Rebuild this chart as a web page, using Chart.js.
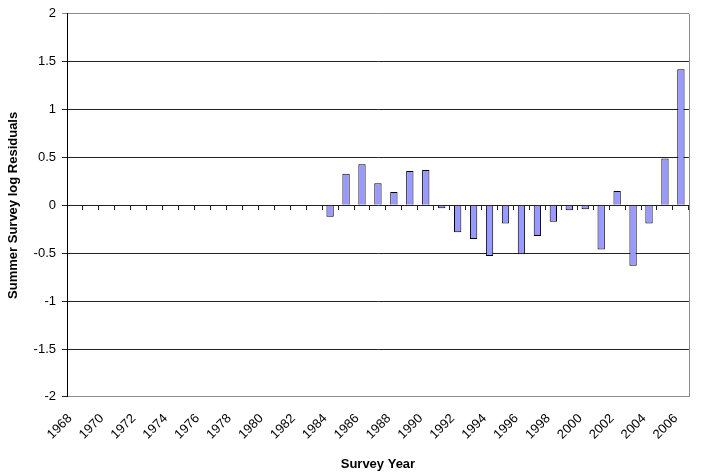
<!DOCTYPE html>
<html>
<head>
<meta charset="utf-8">
<script src="https://cdn.jsdelivr.net/npm/chart.js@4/dist/chart.umd.min.js"></script>
<style>
  html, body { margin: 0; padding: 0; background: #fff; }
  #wrap { width: 706px; height: 472px; }
</style>
</head>
<body>
<div id="wrap"><canvas id="chart" width="706" height="472"></canvas></div>
<script>
// survey years 1968 - 2006
const years = [];
for (let y = 1968; y <= 2006; y++) years.push(String(y));

// log residuals, no survey before 1984
const residuals = [
  null, null, null, null, null, null, null, null, null, null,   // 1968-1977
  null, null, null, null, null, null,                           // 1978-1983
  -0.12, 0.33, 0.43, 0.23, 0.14, 0.36, 0.37, -0.03,             // 1984-1991
  -0.28, -0.35, -0.53, -0.19, -0.51, -0.32, -0.17, -0.05,       // 1992-1999
  -0.04, -0.46, 0.15, -0.63, -0.19, 0.49, 1.42                  // 2000-2006
];

const yTicks = [-2, -1.5, -1, -0.5, 0, 0.5, 1, 1.5, 2];

// right edge of the plot area
const frame = {
  id: 'frame',
  afterDraw(chart) {
    const { ctx, chartArea: a } = chart;
    ctx.save();
    ctx.strokeStyle = '#8c8c8c';
    ctx.lineWidth = 1;
    ctx.beginPath();
    ctx.moveTo(Math.round(a.right) + 0.5, a.top);
    ctx.lineTo(Math.round(a.right) + 0.5, a.bottom);
    ctx.stroke();
    ctx.restore();
  }
};

Chart.defaults.font.family = '"Liberation Sans", Arial, sans-serif';
Chart.defaults.color = '#000';

new Chart(document.getElementById('chart'), {
  type: 'bar',
  data: {
    labels: years,
    datasets: [{
      data: residuals,
      backgroundColor: '#9999ff',
      borderColor: '#000',
      borderWidth: 1,
      barPercentage: 0.46,
      categoryPercentage: 1.0
    }]
  },
  options: {
    responsive: false,
    animation: false,
    layout: { padding: { left: 6, right: 5, top: 10, bottom: 0 } },
    plugins: { legend: { display: false }, tooltip: { enabled: false } },
    scales: {
      x: {
        position: 'bottom',
        grid: { display: false, drawTicks: false },
        border: { display: true, color: '#8c8c8c' },
        ticks: {
          autoSkip: false,
          minRotation: 45,
          maxRotation: 45,
          padding: 14,
          labelOffset: -5,
          font: { size: 13 },
          callback: (v, i) => (i % 2 === 0 ? years[i] : '')
        },
        title: {
          display: true,
          text: 'Survey Year',
          font: { size: 13, weight: 'bold' },
          padding: { top: 0, bottom: 0 }
        }
      },
      x0: {
        type: 'category',
        axis: 'x',
        labels: years,
        position: { y: 0 },
        offset: true,
        grid: { drawOnChartArea: false, tickLength: 5, color: '#222', offset: true },
        border: { display: false },
        ticks: { display: false }
      },
      y: {
        min: -2,
        max: 2,
        afterBuildTicks: (s) => { s.ticks = yTicks.map(v => ({ value: v })); },
        grid: {
          color: (c) => (c.tick && c.tick.value === 2 ? '#8c8c8c' : '#222'),
          tickLength: 5
        },
        border: { display: true, color: '#000' },
        ticks: {
          padding: 6,
          font: { size: 13 },
          callback: (v) => String(v)
        },
        title: {
          display: true,
          text: 'Summer Survey log Residuals',
          font: { size: 13, weight: 'bold' },
          padding: { top: 0, bottom: 6 }
        }
      }
    }
  },
  plugins: [frame]
});
</script>
</body>
</html>
